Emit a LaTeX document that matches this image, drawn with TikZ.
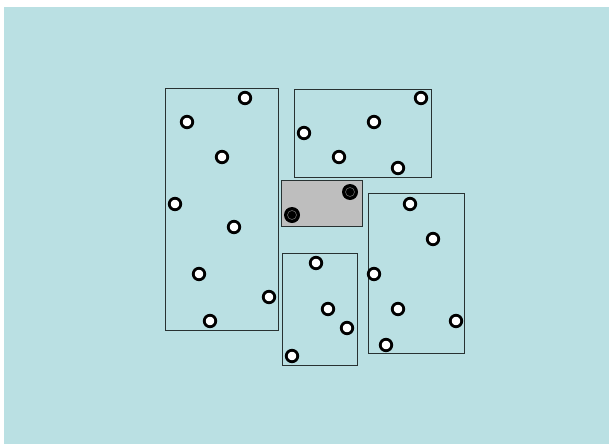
\documentclass[tikz,border=0pt]{standalone}
\definecolor{bgc}{RGB}{186,224,227}
\definecolor{boxgray}{RGB}{190,190,190}
\definecolor{edgec}{RGB}{40,50,50}
\begin{document}
\begin{tikzpicture}[x=1pt,y=-1pt,
  region/.style={draw=edgec,line width=1pt},
  hole/.style={circle,draw=black,fill=white,line width=2.8pt,minimum size=11.5pt,inner sep=0pt},
  peg/.style={circle,fill=black,minimum size=16pt,inner sep=0pt,
    path picture={\draw[gray!80!black,line width=0.6pt] (path picture bounding box.center) circle (4.5pt);}}]
\useasboundingbox (0,0) rectangle (609,444);
\fill[white] (0,0) rectangle (609,444);
\fill[bgc] (4,7) rectangle (609,444);
% regions
\draw[region] (165,88) rectangle (278,330);
\draw[region] (294,89) rectangle (431,177);
\draw[region,fill=boxgray] (281,180) rectangle (362,226);
\draw[region] (282,253) rectangle (357,365);
\draw[region] (368,193) rectangle (464,353);
% left region
\node[hole] (a1) at (245,98) {};
\node[hole] (a2) at (187,122) {};
\node[hole] (a3) at (222,157) {};
\node[hole] (a4) at (175,204) {};
\node[hole] (a5) at (234,227) {};
\node[hole] (a6) at (199,274) {};
\node[hole] (a7) at (269,297) {};
\node[hole] (a8) at (210,321) {};
% top right region
\node[hole] (b1) at (421,98) {};
\node[hole] (b2) at (304,133) {};
\node[hole] (b3) at (374,122) {};
\node[hole] (b4) at (339,157) {};
\node[hole] (b5) at (398,168) {};
% gray box
\node[peg] (c1) at (350,192) {};
\node[peg] (c2) at (292,215) {};
% bottom middle
\node[hole] (d1) at (316,263) {};
\node[hole] (d2) at (328,309) {};
\node[hole] (d3) at (347,328) {};
\node[hole] (d4) at (292,356) {};
% right region
\node[hole] (e1) at (410,204) {};
\node[hole] (e2) at (433,239) {};
\node[hole] (e3) at (374,274) {};
\node[hole] (e4) at (398,309) {};
\node[hole] (e5) at (456,321) {};
\node[hole] (e6) at (386,345) {};
\end{tikzpicture}
\end{document}
